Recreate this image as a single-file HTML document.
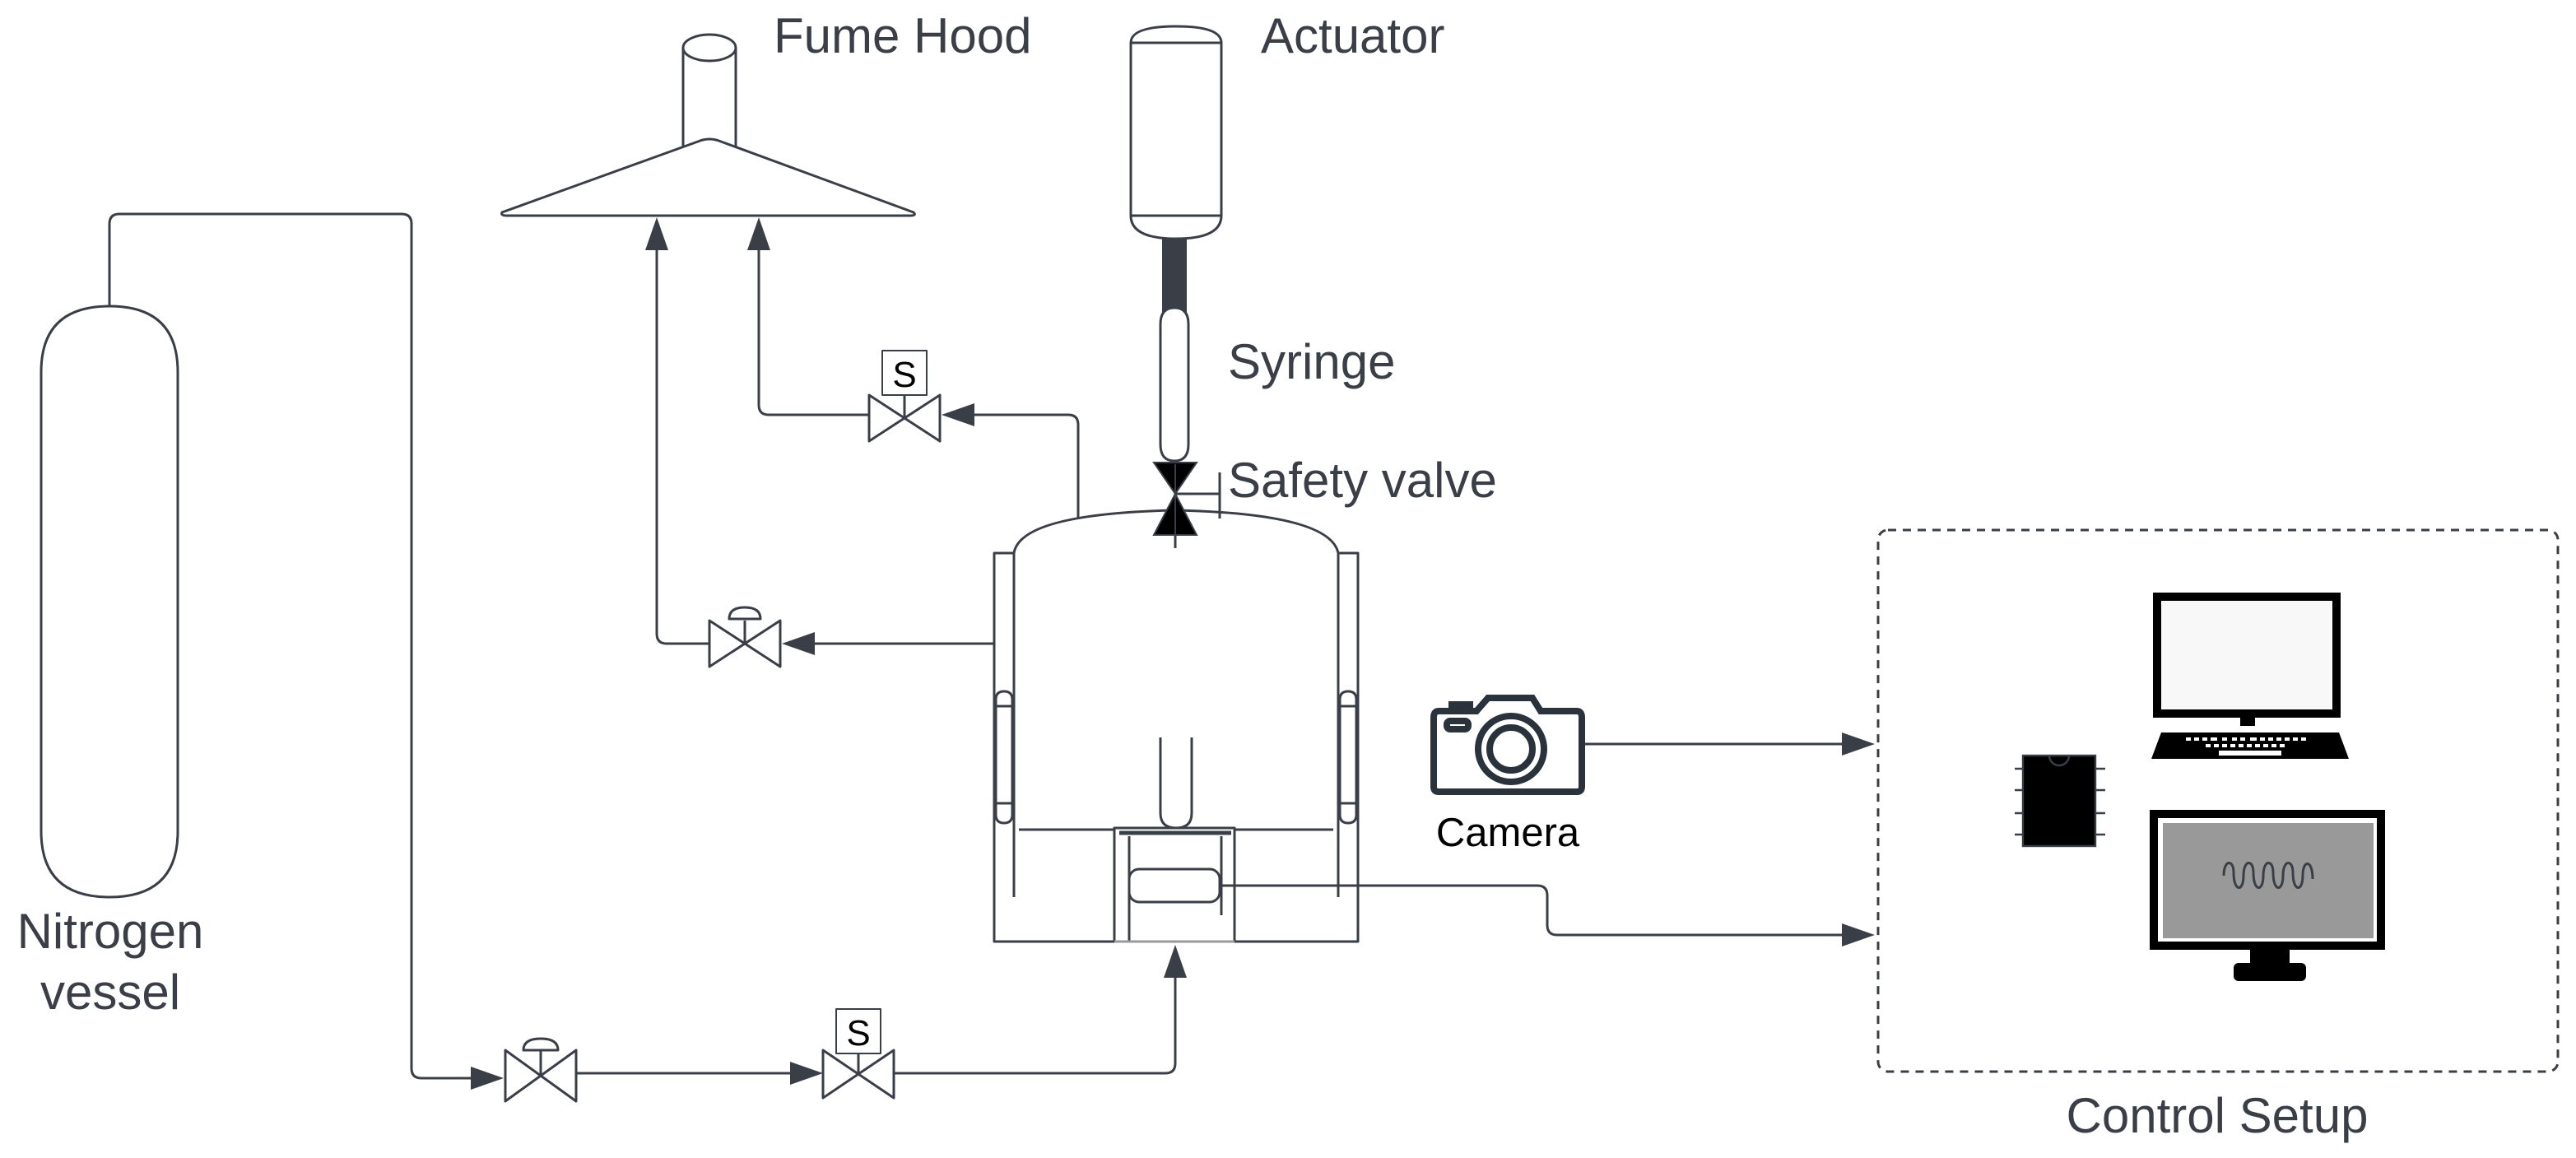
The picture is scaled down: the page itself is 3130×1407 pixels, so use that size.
<!DOCTYPE html>
<html><head><meta charset="utf-8"><style>
html,body{margin:0;padding:0;background:#fff;}
svg{display:block;}
text{font-family:"Liberation Sans",Arial,sans-serif;}
</style></head><body>
<svg width="3130" height="1407" viewBox="0 0 1565 703.5" xmlns="http://www.w3.org/2000/svg">
<g fill="none" stroke="#3a3f47" stroke-width="1.5" stroke-linejoin="round">
<!-- Nitrogen vessel -->
<path d="M25 226 Q25 186 66.5 186 Q108 186 108 226 L108 505 Q108 545 66.5 545 Q25 545 25 505 Z" fill="#fff"/>
<path d="M66.5 186 L66.5 136 Q66.5 130 72.5 130 L244 130 Q250 130 250 136 L250 649 Q250 655 256 655 L288 655"/>
<!-- valve 1 (bottom left) -->
<path d="M307 638 L350 669 L350 638 L307 669 Z" fill="#fff"/>
<line x1="328.5" y1="653" x2="328.5" y2="638"/>
<path d="M318 638 Q318 631 328.5 631 Q339 631 339 638 Z" fill="#fff"/>
<path d="M350 652 L482 652"/>
<!-- valve 2 S -->
<path d="M500 638 L543 667 L543 638 L500 667 Z" fill="#fff"/>
<line x1="521.5" y1="652" x2="521.5" y2="640"/>
<rect x="508" y="613" width="27" height="27" fill="#fff" stroke-width="1"/>
<path d="M543 652 L708 652 Q714 652 714 646 L714 594"/>
<!-- fume hood -->
<path d="M415 29 L415 90 M447 29 L447 90"/>
<ellipse cx="431" cy="29" rx="16" ry="8" fill="#fff"/>
<path d="M305 129 Q304 131 308 131 L553 131 Q557 131 555 129 L438 86 Q431 83 424 86 Z" fill="#fff"/>
<!-- lines to hood -->
<path d="M399 152 L399 385 Q399 391 405 391 L431 391"/>
<path d="M461 152 L461 246 Q461 252 467 252 L528 252"/>
<!-- hood valve lower -->
<path d="M431 377 L474 405 L474 377 L431 405 Z" fill="#fff"/>
<line x1="452.5" y1="391" x2="452.5" y2="377"/>
<path d="M443 376 Q443 369 452.5 369 Q462 369 462 376 Z" fill="#fff"/>
<path d="M494 391 L604 391"/>
<!-- hood valve upper S -->
<path d="M528 240 L571 268 L571 240 L528 268 Z" fill="#fff"/>
<line x1="549.5" y1="254" x2="549.5" y2="240"/>
<rect x="536" y="213" width="27" height="27" fill="#fff" stroke-width="1"/>
<path d="M591 252 L649 252 Q655 252 655 258 L655 316"/>
<!-- actuator -->
<path d="M687 26 Q687 16 714.5 16 Q742 16 742 26 L742 131 Q742 145 714.5 145 Q687 145 687 131 Z" fill="#fff"/>
<line x1="687" y1="26" x2="742" y2="26"/>
<line x1="687" y1="131" x2="742" y2="131"/>
<rect x="706" y="145" width="15" height="45" fill="#3a3f47" stroke="none"/>
<path d="M705 197 Q705 187 713.5 187 Q722 187 722 197 L722 270 Q722 280 713.5 280 Q705 280 705 270 Z" fill="#fff"/>
<!-- vessel -->
<path d="M616 336 L604 336 L604 572 L825 572 L825 336 L813 336"/>
<path d="M616 336 Q620 312 714 310 Q808 312 813 336" fill="#fff"/>
<path d="M616 336 L616 545 M813 336 L813 545"/>
<path d="M605 428 L605 425 Q605 420 610 420 Q615 420 615 425 L615 495 Q615 500 610 500 Q605 500 605 495 Z M605 429 L615 429 M605 488 L615 488" fill="#fff"/>
<path d="M814 428 L814 425 Q814 420 819 420 Q824 420 824 425 L824 495 Q824 500 819 500 Q814 500 814 495 Z M814 429 L824 429 M814 488 L824 488" fill="#fff"/>
<line x1="619" y1="504" x2="810" y2="504"/>
<rect x="677" y="503" width="73" height="69" fill="#fff"/>
<path d="M680 506 L748 506" stroke-width="2.5"/>
<line x1="686" y1="508" x2="686" y2="572"/>
<line x1="742" y1="508" x2="742" y2="556"/>
<path d="M705 448 L705 494 Q705 503 714.5 503 Q724 503 724 494 L724 448" fill="#fff"/>
<rect x="686" y="528" width="55" height="20" rx="6" fill="#fff"/>
<line x1="677" y1="572" x2="750" y2="572" stroke="#999"/>
<path d="M741 538 L934 538 Q940 538 940 544 L940 562 Q940 568 946 568 L1120 568"/>
<!-- safety valve -->
<line x1="714" y1="282" x2="714" y2="333"/>
<path d="M714 300 L741 300 M741 287 L741 315"/>
<!-- camera line -->
<path d="M962 452 L1120 452"/>
<!-- control box -->
<rect x="1141" y="322" width="413" height="329" rx="6" stroke-dasharray="5 4"/>
</g>
<!-- safety valve triangles -->
<g fill="#000" stroke="#3a3f47" stroke-width="1">
<path d="M701 281 L727 281 L714 300 Z"/>
<path d="M701 325 L727 325 L714 300 Z"/>
</g>
<line x1="714" y1="282" x2="714" y2="333" stroke="#3a3f47" stroke-width="1"/>
<!-- arrowheads -->
<g fill="#3a3f47">
<polygon points="306,655 286,648 286,662"/>
<polygon points="500,652 480,645 480,659"/>
<polygon points="714,574 707,594 721,594"/>
<polygon points="399,132 392,152 406,152"/>
<polygon points="461,132 454,152 468,152"/>
<polygon points="475,391 495,384 495,398"/>
<polygon points="572,252 592,245 592,259"/>
<polygon points="1139,452 1119,445 1119,459"/>
<polygon points="1139,568 1119,561 1119,575"/>
</g>
<!-- camera icon -->
<g fill="none" stroke="#2a323c" stroke-width="4">
<path d="M874 432 L897 432 L904 424 L931 424 L936 432 L958 432 Q961 432 961 436 L961 478 Q961 481 958 481 L874 481 Q871 481 871 478 L871 436 Q871 432 874 432 Z"/>
<circle cx="918" cy="455" r="20"/>
<circle cx="918" cy="455" r="13"/>
<rect x="879" y="438" width="13" height="5" rx="2"/>
<path d="M882 432 L882 428 L893 428 L893 432"/>
</g>
<!-- laptop -->
<rect x="1310.5" y="362.5" width="109" height="71" fill="#f8f8f8" stroke="#000" stroke-width="5"/>
<rect x="1361" y="436" width="9" height="5" fill="#000"/>
<polygon points="1313,445 1421,445 1427,461 1307,461" fill="#000"/>
<g fill="#fff">
<rect x="1328" y="448" width="3" height="2"/><rect x="1333" y="448" width="3" height="2"/><rect x="1338" y="448" width="3" height="2"/><rect x="1343" y="448" width="4" height="2"/><rect x="1350" y="448" width="3" height="2"/><rect x="1356" y="448" width="3" height="2"/><rect x="1361" y="448" width="3" height="2"/><rect x="1367" y="448" width="4" height="2"/><rect x="1373" y="448" width="3" height="2"/><rect x="1378" y="448" width="3" height="2"/><rect x="1383" y="448" width="3" height="2"/><rect x="1388" y="448" width="3" height="2"/><rect x="1393" y="448" width="3" height="2"/><rect x="1398" y="448" width="3" height="2"/>
<rect x="1340" y="452" width="3" height="2"/><rect x="1345" y="452" width="3" height="2"/><rect x="1350" y="452" width="3" height="2"/><rect x="1355" y="452" width="3" height="2"/><rect x="1360" y="452" width="3" height="2"/><rect x="1365" y="452" width="3" height="2"/><rect x="1370" y="452" width="3" height="2"/><rect x="1375" y="452" width="3" height="2"/><rect x="1380" y="452" width="3" height="2"/><rect x="1385" y="452" width="3" height="2"/>
<rect x="1348" y="456" width="38" height="3"/>
</g>
<!-- monitor -->
<rect x="1306" y="492" width="143" height="85" fill="#000"/>
<rect x="1311" y="497" width="133" height="75" fill="#fff"/>
<rect x="1314" y="500" width="128" height="70" fill="#999"/>
<path d="M1351 532 C1351 522 1357 522 1357 530 C1357 542 1363 542 1363 532 C1363 522 1369 522 1369 530 C1369 542 1375 542 1375 532 C1375 522 1381 522 1381 530 C1381 542 1387 542 1387 532 C1387 522 1393 522 1393 530 C1393 542 1399 542 1399 532 C1399 522 1405 522 1405 534" fill="none" stroke="#3a3f47" stroke-width="1.5"/>
<rect x="1367" y="577" width="24" height="9" fill="#000"/>
<rect x="1357" y="585" width="44" height="11" rx="3" fill="#000"/>
<!-- chip -->
<g stroke="#3a3f47" stroke-width="1.2">
<rect x="1229" y="459" width="44" height="55" fill="#000"/>
<path d="M1245 459 A6 6 0 0 0 1257 459" fill="none"/>
<path d="M1224 467 L1229 467 M1224 480 L1229 480 M1224 494 L1229 494 M1224 507 L1229 507 M1273 467 L1279 467 M1273 480 L1279 480 M1273 494 L1279 494 M1273 507 L1279 507"/>
</g>
<!-- labels -->
<g fill="#3a3f47" font-size="30">
<text x="470" y="32">Fume Hood</text>
<text x="766" y="32">Actuator</text>
<text x="746" y="230">Syringe</text>
<text x="746" y="302">Safety valve</text>
<text x="67" y="576" text-anchor="middle">Nitrogen</text>
<text x="67" y="613" text-anchor="middle">vessel</text>
<text x="1347" y="688" text-anchor="middle">Control Setup</text>
</g>
<text x="916" y="514" font-size="24.5" fill="#000" text-anchor="middle">Camera</text>
<g font-size="22" fill="#000" text-anchor="middle">
<text x="549.5" y="235">S</text>
<text x="521.5" y="635">S</text>
</g>
</svg>
</body></html>
